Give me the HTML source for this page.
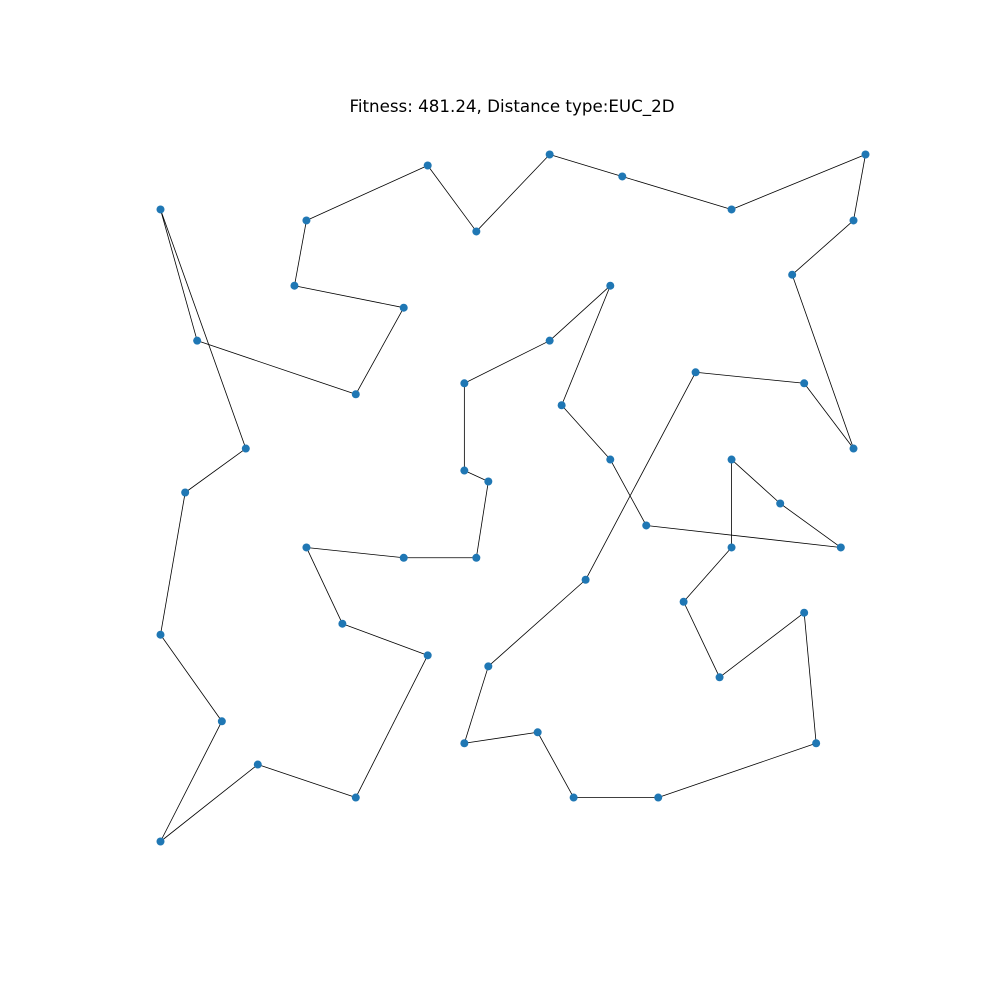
<!DOCTYPE html>
<html><head><meta charset="utf-8"><style>
html,body{margin:0;padding:0;background:#fff;}
svg{display:block;}
</style></head><body>
<svg id="chart" width="1000" height="1000" viewBox="0 0 1000 1000">
<text x="512" y="112" text-anchor="middle" font-family="'DejaVu Sans', 'Liberation Sans', sans-serif" font-size="16.7" fill="#000">Fitness: 481.24, Distance type:EUC_2D</text>
<g id="edges"></g>
<g id="nodes"></g>
</svg>
<script>
const xs = [0,5.2,27.7,34.5,19.0,20.7,37.9,44.8,55.2,65.5,81.0,100,98.3,89.6,98.3,91.3,75.9,60.3,46.5,43.1,53.5,58.6,70.6,93.0,91.3,79.3,74.2,81.0,81.0,87.9,96.5,68.9,63.8,56.9,63.8,55.2,43.1,43.1,46.5,44.8,34.5,20.7,25.8,37.9,27.7,13.8,0,8.7,0,3.5,12.1];
const ys = [92.0,72.9,65.1,77.7,80.9,90.4,98.4,88.8,100,96.8,92.0,100,90.4,82.5,57.2,66.7,68.3,38.1,25.5,14.3,15.9,6.4,6.4,14.3,33.3,23.9,34.9,42.8,55.6,49.2,42.8,46.0,55.6,63.5,80.9,72.9,66.7,54.0,52.4,41.3,41.3,42.8,31.7,27.1,6.4,11.2,0,17.5,30.1,50.8,57.2];
const NS = 'http://www.w3.org/2000/svg';
function sx(v){ return 160.5 + v * 7.05; }
function sy(v){ return 841.5 - v * 6.87; }
const edges = document.getElementById('edges');
const nodes = document.getElementById('nodes');
for (let i = 0; i < xs.length; i++) {
  const j = (i + 1) % xs.length;
  const l = document.createElementNS(NS, 'line');
  l.setAttribute('x1', sx(xs[i])); l.setAttribute('y1', sy(ys[i]));
  l.setAttribute('x2', sx(xs[j])); l.setAttribute('y2', sy(ys[j]));
  l.setAttribute('stroke', '#000'); l.setAttribute('stroke-width', '0.8');
  
  
  edges.appendChild(l);
}
for (let i = 0; i < xs.length; i++) {
  const c = document.createElementNS(NS, 'circle');
  c.setAttribute('cx', sx(xs[i])); c.setAttribute('cy', sy(ys[i]));
  c.setAttribute('r', '4'); c.setAttribute('fill', '#1f77b4');
  
  
  nodes.appendChild(c);
}
</script>
</body></html>
